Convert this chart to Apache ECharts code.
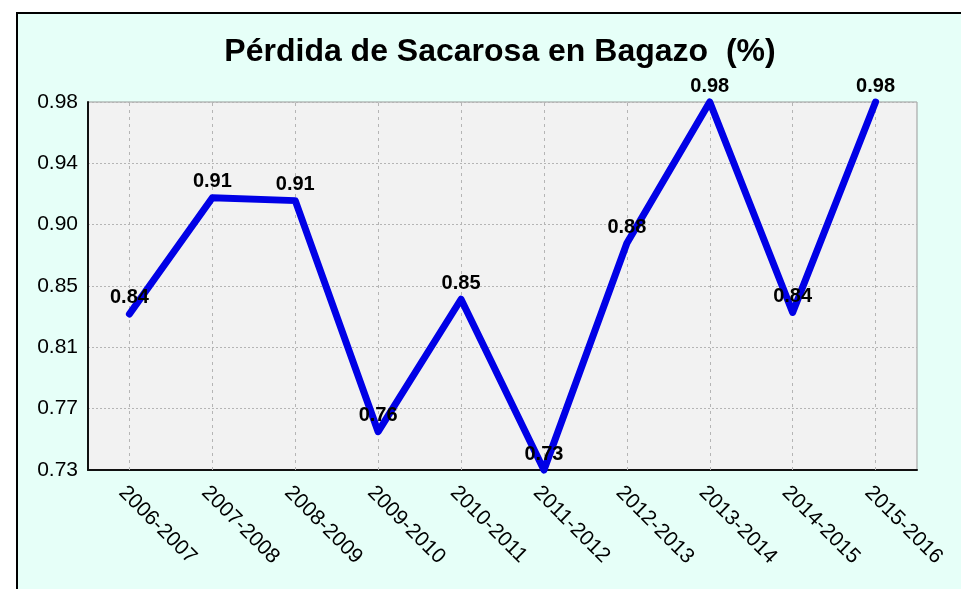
<!DOCTYPE html>
<html>
<head>
<meta charset="utf-8">
<script src="https://cdn.jsdelivr.net/npm/echarts@6/dist/echarts.min.js"></script>
<style>
  html, body { margin: 0; padding: 0; background: #fff; }
  #main { width: 961px; height: 589px; }
</style>
</head>
<body>
<div id="main"></div>
<script>
var zafras = ['2006-2007', '2007-2008', '2008-2009', '2009-2010', '2010-2011',
  '2011-2012', '2012-2013', '2013-2014', '2014-2015', '2015-2016'];
var perdida = [0.836, 0.9149, 0.913, 0.756, 0.846, 0.73, 0.884, 0.98, 0.837, 0.98];
var yMin = 0.73;
var yMax = 0.98;

var chart = echarts.init(document.getElementById('main'));

var lineasV = [];
for (var i = 0; i < zafras.length; i++) {
  lineasV.push({ xAxis: i });
}

var option = {
  backgroundColor: '#ffffff',
  animation: false,
  graphic: [{
    type: 'rect',
    z: -10,
    shape: { x: 17, y: 13, width: 980, height: 600 },
    style: { fill: '#e6fff8', stroke: '#000', lineWidth: 2 }
  }],
  title: {
    text: 'Pérdida de Sacarosa en Bagazo  (%)',
    left: 495,
    textAlign: 'center',
    top: 31,
    textStyle: { fontFamily: 'Liberation Sans', fontSize: 32, fontWeight: 'bold', color: '#000' }
  },
  grid: {
    left: 88, right: 44, top: 102, bottom: 119,
    show: true,
    backgroundColor: '#f2f2f2',
    borderColor: '#999',
    borderWidth: 1
  },
  xAxis: {
    type: 'category',
    data: zafras,
    boundaryGap: true,
    axisLine: { lineStyle: { color: '#111', width: 2 } },
    axisTick: { inside: true, length: 5, lineStyle: { color: '#111' } },
    splitLine: { show: false },
    axisLabel: {
      rotate: -45,
      margin: 12,
      interval: 0,
      verticalAlign: 'top',
      color: '#000',
      fontFamily: 'Liberation Sans',
      fontSize: 21
    }
  },
  yAxis: {
    type: 'value',
    min: yMin,
    max: yMax,
    interval: (yMax - yMin) / 6,
    axisLine: { show: true, lineStyle: { color: '#111', width: 2 } },
    axisTick: { show: false },
    splitLine: { lineStyle: { color: '#b5b5b5', type: [2, 2], width: 1 } },
    axisLabel: {
      margin: 10,
      color: '#000',
      fontFamily: 'Liberation Sans',
      fontSize: 21,
      formatter: function (v) { return v.toFixed(2); }
    }
  },
  series: [{
    type: 'line',
    data: perdida,
    clip: false,
    showSymbol: true,
    symbol: 'circle',
    symbolSize: 2,
    itemStyle: { color: '#0000e6' },
    lineStyle: { color: '#0000e6', width: 7, cap: 'round', join: 'round' },
    label: {
      show: true,
      position: 'top',
      distance: 5,
      color: '#000',
      fontFamily: 'Liberation Sans',
      fontSize: 20,
      fontWeight: 'bold',
      formatter: function (p) { return p.value.toFixed(2); }
    },
    markLine: {
      silent: true,
      symbol: 'none',
      z: 1,
      label: { show: false },
      lineStyle: { color: '#b5b5b5', type: [3, 4], width: 1 },
      data: lineasV
    },
    z: 3
  }]
};

chart.setOption(option);
</script>
</body>
</html>
